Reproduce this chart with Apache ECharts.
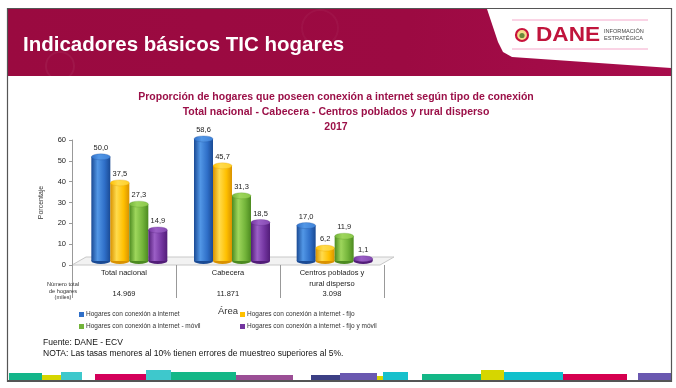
<!DOCTYPE html>
<html><head><meta charset="utf-8">
<script src="https://cdn.jsdelivr.net/npm/echarts@6/dist/echarts.min.js"></script>
<style>html,body{margin:0;padding:0;background:#fff}#c{width:676px;height:388px}</style>
</head><body><div id="c"></div><script>
// ---- data ----
const categories = ['Total nacional', 'Cabecera', 'Centros poblados y\nrural disperso'];
const households = ['14.969', '11.871', '3.098'];
const seriesNames = [
  'Hogares con conexión a internet',
  'Hogares con conexión a internet - fijo',
  'Hogares con conexión a internet - móvil',
  'Hogares con conexión a internet - fijo y móvil'
];
const internetTotal = [50.0, 58.6, 17.0];
const internetFijo = [37.5, 45.7, 6.2];
const internetMovil = [27.3, 31.3, 11.9];
const internetFijoMovil = [14.9, 18.5, 1.1];
const yMin = 0, yMax = 60, yStep = 10;

// ---- styles ----
const FONT = 'Liberation Sans, Arial, sans-serif';
const palettes = [
  {main:'#2f6fc8', dark:'#1a4a94', light:'#5297e6', top:'#3f82d8'},
  {main:'#ffc000', dark:'#d99200', light:'#ffdb4d', top:'#ffcf26'},
  {main:'#73b43a', dark:'#4c8a20', light:'#9ed65c', top:'#8ac84a'},
  {main:'#7335a0', dark:'#521d78', light:'#9b5fc6', top:'#8549b2'}
];
const allSeries = [internetTotal, internetFijo, internetMovil, internetFijoMovil];

function fmt(v){ return v.toFixed(1).replace('.', ','); }

function makeRender(k){
  const p = palettes[k];
  return function(params, api){
    const ci = api.value(0), v = api.value(1);
    const top = api.coord([ci, v]);
    const base = api.coord([ci, 0]);
    const w = 19, r = w / 2, ry = 3;
    const cx = top[0] + (k - 1.5) * w;
    const grad = new echarts.graphic.LinearGradient(0,0,1,0,[
      {offset:0,color:p.dark},{offset:0.33,color:p.light},{offset:0.7,color:p.main},{offset:1,color:p.dark}]);
    const topGrad = new echarts.graphic.LinearGradient(0,0,1,0,[
      {offset:0,color:p.main},{offset:0.4,color:p.light},{offset:1,color:p.top}]);
    return {type:'group', children:[
      {type:'circle', shape:{cx:0,cy:0,r:r}, x:cx, y:base[1], scaleY: ry/r, style:{fill:p.dark}},
      {type:'rect', shape:{x:cx-r, y:top[1], width:w, height:Math.max(0, base[1]-top[1])}, style:{fill:grad}},
      {type:'circle', shape:{cx:0,cy:0,r:r}, x:cx, y:top[1], scaleY: ry/r, style:{fill:topGrad, stroke:p.dark, lineWidth:0.4}},
      {type:'text', style:{text:fmt(v), x:cx, y:top[1]-ry-2, align:'center', verticalAlign:'bottom',
        fill:'#222', fontSize:7.5, fontFamily:FONT}}
    ]};
  };
}

const series = allSeries.map((arr, k) => ({
  type:'custom', name:seriesNames[k], xAxisIndex:1, yAxisIndex:1,
  itemStyle:{color:palettes[k].main},
  renderItem: makeRender(k),
  encode:{x:0, y:1},
  data: arr.map((v, i) => [i, v]),
  z: 3 + k
}));

const stripes = [
  [9,42,373,'#13b58a'],[42,61,375,'#d6d600'],[61,82,372,'#3ec8cc'],[95,146,374,'#d4005a'],
  [146,171,370,'#3ec8cc'],[171,236,372,'#13b787'],[236,293,375,'#9b4e95'],[311,340,375,'#3c3f85'],
  [340,377,373,'#6a58b0'],[377,383,376,'#d6d600'],[383,408,372,'#17c0cc'],[422,481,374,'#13b787'],
  [481,504,370,'#d6d600'],[504,563,372,'#10c0cc'],[563,627,374,'#d5004f'],[638,671,373,'#6a58b0']
];

const graphics = [
  // header
  {type:'rect', shape:{x:8,y:9,width:663,height:67}, style:{fill:new echarts.graphic.LinearGradient(0,0,1,1,[
    {offset:0,color:'#9a0a40'},{offset:0.6,color:'#9c0a42'},{offset:1,color:'#a80c4c'}])}, z:0},
  {type:'circle', shape:{cx:60,cy:66,r:14}, style:{fill:'none', stroke:'rgba(255,255,255,0.05)', lineWidth:2}, z:0},
  {type:'circle', shape:{cx:320,cy:28,r:18}, style:{fill:'none', stroke:'rgba(255,255,255,0.035)', lineWidth:2}, z:0},
  {type:'polygon', shape:{points:[[487,9],[671,9],[671,68],[512,57],[503,52],[498,42]]}, style:{fill:'#ffffff'}, z:1},
  {type:'line', shape:{x1:512,y1:20,x2:648,y2:20}, style:{stroke:'#f5a8cb', lineWidth:1}, z:1},
  {type:'line', shape:{x1:512,y1:49,x2:648,y2:49}, style:{stroke:'#f5a8cb', lineWidth:1}, z:1},
  {type:'circle', shape:{cx:522,cy:35,r:6}, style:{fill:'#f4dc8a', stroke:'#c8123c', lineWidth:2.2}, z:1},
  {type:'circle', shape:{cx:522,cy:35.5,r:2.6}, style:{fill:'#6a8a3a'}, z:1},
  {type:'text', x:536, y:35, scaleX:1.13, style:{text:'DANE', x:0, y:0, verticalAlign:'middle', fill:'#c0143c',
    fontSize:20, fontWeight:'bold', fontFamily:FONT}, z:1},
  {type:'text', style:{text:'INFORMACIÓN', x:604, y:31, verticalAlign:'middle', fill:'#444', fontSize:5.6, fontFamily:FONT}, z:1},
  {type:'text', style:{text:'ESTRATÉGICA', x:604, y:38.5, verticalAlign:'middle', fill:'#444', fontSize:5.6, fontFamily:FONT}, z:1},
  {type:'text', style:{text:'Indicadores básicos TIC hogares', x:23, y:45, verticalAlign:'middle', fill:'#ffffff',
    fontSize:20.5, fontWeight:'bold', fontFamily:FONT}, z:1},
  // frame
  {type:'polyline', shape:{points:[[7.5,382],[7.5,8.5],[671.5,8.5],[671.5,382]]}, style:{stroke:'#555', lineWidth:1.2, fill:'none'}, z:2},
  // floor
  {type:'polygon', shape:{points:[[72,265],[86,257],[394,257],[380,265]]}, style:{fill:'#f2f2f2', stroke:'#c8c8c8', lineWidth:1}, z:0},
  // left table label
  {type:'text', style:{text:'Número total\nde hogares\n(miles)', x:63, y:291, align:'center', verticalAlign:'middle',
    fill:'#333', fontSize:5.6, lineHeight:6.6, fontFamily:FONT}, z:1},
  // footer
  {type:'text', style:{text:'Fuente: DANE - ECV', x:43, y:343, verticalAlign:'middle', fill:'#111', fontSize:8.5, fontFamily:FONT}, z:1},
  {type:'text', style:{text:'NOTA: Las tasas menores al 10% tienen errores de muestreo superiores al 5%.', x:43, y:354,
    verticalAlign:'middle', fill:'#111', fontSize:8.5, fontFamily:FONT}, z:1}
];
stripes.forEach(s => graphics.push({type:'rect', shape:{x:s[0], y:s[2], width:s[1]-s[0], height:380-s[2]}, style:{fill:s[3]}, z:1}));
graphics.push({type:'line', shape:{x1:7.5,y1:381,x2:671.5,y2:381}, style:{stroke:'#555', lineWidth:2}, z:2});

const option = {
  backgroundColor:'#ffffff',
  animation:false,
  title:{
    text:'Proporción de hogares que poseen conexión a internet según tipo de conexión\nTotal nacional - Cabecera - Centros poblados y rural disperso\n2017',
    left:336, top:90, textAlign:'center', padding:0,
    textStyle:{color:'#9b1048', fontSize:10.5, fontWeight:'bold', lineHeight:15, fontFamily:FONT}
  },
  graphic: graphics,
  legend:[
    {data:[seriesNames[0], seriesNames[2]], orient:'vertical', left:79, top:311, itemGap:5, itemWidth:5, itemHeight:5,
     icon:'rect', padding:0, textStyle:{fontSize:6.5, color:'#333', fontFamily:FONT, padding:[0,0,0,-3]}},
    {data:[seriesNames[1], seriesNames[3]], orient:'vertical', left:240, top:311, itemGap:5, itemWidth:5, itemHeight:5,
     icon:'rect', padding:0, textStyle:{fontSize:6.5, color:'#333', fontFamily:FONT, padding:[0,0,0,-3]}}
  ],
  grid:[
    {left:72, top:140, width:312, height:125},
    {left:78, top:136, width:308, height:125}
  ],
  xAxis:[
    {type:'category', gridIndex:0, data:categories, boundaryGap:true,
     name:'Área', nameLocation:'middle', nameGap:41,
     nameTextStyle:{fontSize:9.5, color:'#333', fontFamily:FONT},
     axisLine:{show:false},
     axisTick:{show:true, length:33, lineStyle:{color:'#999'}},
     axisLabel:{margin:3, interval:0, color:'#222', fontFamily:FONT,
       formatter:function(val, idx){
         const parts = val.split('\n');
         const l1 = parts[0], l2 = parts[1] || ' ';
         return '{a|' + l1 + '}\n{a|' + l2 + '}\n{b|' + households[idx] + '}';
       },
       rich:{a:{fontSize:7.5, lineHeight:10.3, color:'#222', fontFamily:FONT},
             b:{fontSize:7.5, lineHeight:10.3, color:'#222', fontFamily:FONT}}}
    },
    {type:'category', gridIndex:1, data:categories, show:false}
  ],
  yAxis:[
    {type:'value', gridIndex:0, min:yMin, max:yMax, interval:yStep,
     name:'Porcentaje', nameLocation:'middle', nameGap:27, nameRotate:90,
     nameTextStyle:{fontSize:7, color:'#333', fontFamily:FONT},
     axisLine:{show:true, lineStyle:{color:'#999'}},
     axisTick:{show:true, length:3, lineStyle:{color:'#999'}},
     splitLine:{show:false},
     axisLabel:{fontSize:7.5, color:'#222', margin:6, fontFamily:FONT}},
    {type:'value', gridIndex:1, min:yMin, max:yMax, show:false, splitLine:{show:false}}
  ],
  series: series
};
echarts.init(document.getElementById('c')).setOption(option);
</script></body></html>
